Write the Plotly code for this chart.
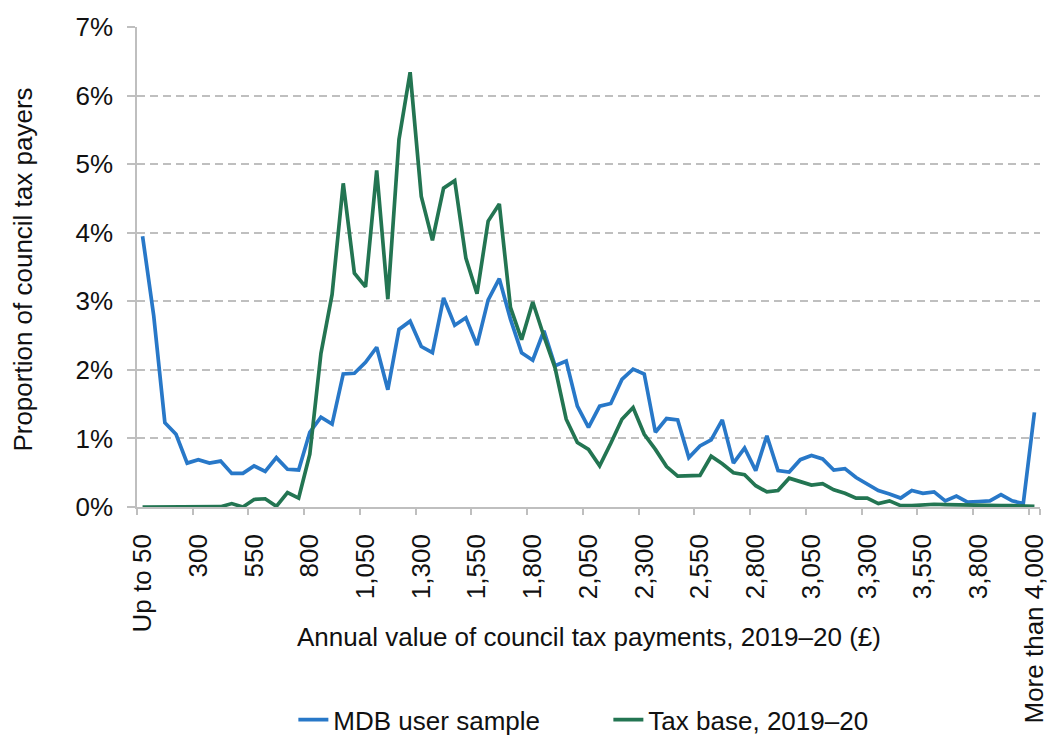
import plotly.graph_objects as go

# Categories: annual council tax payment bands (£)
categories = ["Up to 50"] + [f"{v:,}" for v in range(100, 4001, 50)] + ["More than 4,000"]

# Proportion of council tax payers (%)
mdb_user_sample = [
    3.95, 2.79, 1.23, 1.06, 0.64, 0.69, 0.64, 0.67, 0.49, 0.49,
    0.60, 0.52, 0.72, 0.55, 0.54, 1.09, 1.31, 1.21, 1.94, 1.95,
    2.11, 2.33, 1.71, 2.59, 2.71, 2.34, 2.25, 3.05, 2.65, 2.76,
    2.36, 3.02, 3.33, 2.74, 2.25, 2.14, 2.57, 2.06, 2.13, 1.47,
    1.16, 1.47, 1.51, 1.86, 2.01, 1.94, 1.09, 1.29, 1.27, 0.72,
    0.89, 0.98, 1.27, 0.64, 0.86, 0.53, 1.04, 0.53, 0.51, 0.69,
    0.75, 0.70, 0.54, 0.56, 0.43, 0.33, 0.24, 0.19, 0.13, 0.24,
    0.20, 0.22, 0.09, 0.16, 0.07, 0.08, 0.09, 0.18, 0.09, 0.05,
    1.38,
]
tax_base_2019_20 = [
    0.00, 0.00, 0.00, 0.00, 0.00, 0.00, 0.00, 0.005, 0.05, 0.00,
    0.11, 0.12, 0.01, 0.21, 0.13, 0.77, 2.24, 3.10, 4.72, 3.41,
    3.21, 4.91, 3.03, 5.36, 6.34, 4.53, 3.89, 4.65, 4.76, 3.63,
    3.11, 4.17, 4.42, 2.91, 2.44, 2.99, 2.49, 2.03, 1.28, 0.94,
    0.84, 0.60, 0.93, 1.28, 1.45, 1.06, 0.84, 0.59, 0.45, 0.45,
    0.46, 0.74, 0.63, 0.50, 0.47, 0.31, 0.22, 0.24, 0.42, 0.37,
    0.32, 0.34, 0.25, 0.20, 0.13, 0.13, 0.05, 0.09, 0.02, 0.02,
    0.03, 0.04, 0.035, 0.03, 0.03, 0.03, 0.02, 0.02, 0.02, 0.02,
    0.01,
]

tick_labels = categories[::5]

series_names = ["MDB user sample", "Tax base, 2019–20"]
series_colors = ["#2878C8", "#237552"]

FONT = "Liberation Sans, Arial, sans-serif"
GRID = "#BFBFBF"

fig = go.Figure()
for name, vals, col in zip(series_names, [mdb_user_sample, tax_base_2019_20], series_colors):
    fig.add_trace(go.Scatter(
        x=categories, y=[v / 100 for v in vals], mode="lines", name=name,
        line=dict(color=col, width=3.7), hoverinfo="x+y",
    ))

fig.update_layout(
    width=1048, height=738,
    margin=dict(l=137, r=8, t=26.5, b=230.5, autoexpand=False),
    paper_bgcolor="white", plot_bgcolor="white",
    font=dict(family=FONT, size=26, color="#111111"),
    showlegend=True,
    legend=dict(orientation="h", x=0.522, xanchor="center", y=-0.443, yanchor="middle",
                font=dict(size=26), bgcolor="rgba(0,0,0,0)",
                entrywidth=270, entrywidthmode="pixels"),
    xaxis=dict(
        type="category", categoryorder="array", categoryarray=categories,
        range=[-0.5, 80.5],
        tickmode="array", tickvals=tick_labels, ticktext=tick_labels,
        tickangle=-90, tickson="boundaries",
        ticks="outside", ticklen=6, tickcolor=GRID, tickwidth=1.5,
        showline=True, linecolor=GRID, linewidth=1.5,
        showgrid=False, zeroline=False, ticklabelstandoff=15,
        tickfont=dict(size=26),
    ),
    yaxis=dict(
        range=[0, 0.07], tickmode="linear", tick0=0, dtick=0.01, tickformat=".0%",
        showgrid=True, gridcolor=GRID, gridwidth=1.5, griddash="8px,5px",
        ticks="outside", ticklen=8, tickcolor=GRID, tickwidth=1.5,
        showline=True, linecolor=GRID, linewidth=1.5, zeroline=False,
        ticklabelstandoff=9, tickfont=dict(size=26),
    ),
    annotations=[
        dict(text="Annual value of council tax payments, 2019–20 (£)", xref="paper", yref="paper",
             x=0.5, y=-0.271, xanchor="center", yanchor="middle", showarrow=False,
             font=dict(size=26)),
        dict(text="Proportion of council tax payers", xref="paper", yref="paper",
             x=-0.126, y=0.495, xanchor="center", yanchor="middle", textangle=-90,
             showarrow=False, font=dict(size=26)),
    ],
)

fig.write_html("out.html", config={"displayModeBar": False},
               post_script="document.body.style.margin='0';")
